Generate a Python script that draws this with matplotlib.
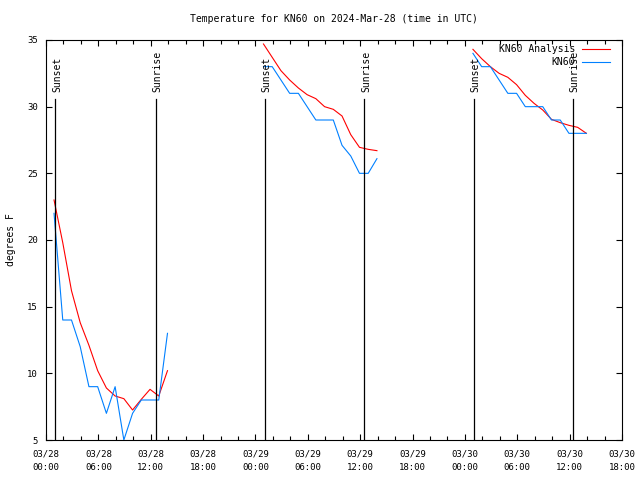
import matplotlib
matplotlib.use("Agg")
import matplotlib.pyplot as plt
from matplotlib.ticker import MultipleLocator, FixedLocator

# ── Data: hours since 03/28 00:00 UTC ─────────────────────────
hours_1 = [0.92, 1.92, 2.92, 3.92, 4.92, 5.92, 6.92, 7.92, 8.92, 9.92, 10.92, 11.92, 12.92, 13.92]
hours_2 = [24.92, 25.92, 26.92, 27.92, 28.92, 29.92, 30.92, 31.92, 32.92, 33.92, 34.92, 35.92, 36.92, 37.92]
hours_3 = [48.92, 49.92, 50.92, 51.92, 52.92, 53.92, 54.92, 55.92, 56.92, 57.92, 58.92, 59.92, 60.92, 61.92]

analysis_1 = [23.0, 19.8, 16.2, 13.8, 12.1, 10.2, 8.9, 8.3, 8.1, 7.25, 8.05, 8.8, 8.3, 10.2]
analysis_2 = [34.7, 33.7, 32.7, 32.0, 31.4, 30.9, 30.6, 30.0, 29.8, 29.3, 27.9, 26.95, 26.8, 26.7]
analysis_3 = [34.3, 33.6, 33.0, 32.5, 32.2, 31.65, 30.85, 30.25, 29.75, 29.05, 28.8, 28.6, 28.45, 28.0]

obs_1 = [22, 14, 14, 12, 9, 9, 7, 9, 5, 7, 8, 8, 8, 13]
obs_2 = [33, 33, 32, 31, 31, 30, 29, 29, 29, 27.1, 26.3, 25, 25, 26.1]
obs_3 = [34, 33, 33, 32, 31, 31, 30, 30, 30, 29, 29, 28, 28, 28]

sunset_hours = [1.07, 25.1, 49.02]
sunrise_hours = [12.6, 36.47, 60.35]

tick_hours = [0, 6, 12, 18, 24, 30, 36, 42, 48, 54, 60, 66]
tick_labels = ["03/28\n00:00", "03/28\n06:00", "03/28\n12:00", "03/28\n18:00",
               "03/29\n00:00", "03/29\n06:00", "03/29\n12:00", "03/29\n18:00",
               "03/30\n00:00", "03/30\n06:00", "03/30\n12:00", "03/30\n18:00"]

station = "KN60"

plt.rcParams["font.family"] = ["DejaVu Sans Mono"]
plt.rcParams["font.size"] = 7

fig = plt.figure(figsize=(6.4, 4.8), dpi=100)
ax = fig.add_axes([46 / 640, 40 / 480, 576 / 640, 400 / 480])

red = "#ff0000"
blue = "#0080ff"

# ── Series ────────────────────────────────────────────────────
for i, (h, a, o) in enumerate([(hours_1, analysis_1, obs_1),
                                (hours_2, analysis_2, obs_2),
                                (hours_3, analysis_3, obs_3)]):
    ax.plot(h, a, color=red, linewidth=0.8,
            label=f"{station} Analysis" if i == 0 else None, zorder=2)
    ax.plot(h, o, color=blue, linewidth=0.8,
            label=station if i == 0 else None, zorder=2)

# ── Sunset / sunrise markers ──────────────────────────────────
trans = ax.get_xaxis_transform()
for name, times in [("Sunset", sunset_hours), ("Sunrise", sunrise_hours)]:
    for t in times:
        ax.plot([t, t], [0, 0.853], color="black", linewidth=0.9,
                transform=trans, zorder=3)
        ax.text(t + 0.2, 0.87, name, rotation=90, ha="center", va="bottom",
                transform=trans, fontsize=7)

ax.set_xlim(0, 66)
ax.set_ylim(5, 35)
ax.xaxis.set_major_locator(FixedLocator(tick_hours))
ax.set_xticklabels(tick_labels)
ax.xaxis.set_minor_locator(MultipleLocator(2))
ax.yaxis.set_major_locator(MultipleLocator(5))

ax.tick_params(which="both", direction="in", top=True, right=True, width=0.8)
ax.tick_params(which="major", length=4.5)
ax.tick_params(which="minor", length=3)
ax.tick_params(axis="x", which="major", pad=7, labelsize=6.5)
ax.tick_params(axis="y", which="major", pad=6, labelsize=6.5)
for lab in ax.get_xticklabels():
    lab.set_linespacing(1.65)
for s in ax.spines.values():
    s.set_linewidth(0.8)

fig.text(334 / 640, 1 - 19 / 480, f"Temperature for {station} on 2024-Mar-28 (time in UTC)",
         ha="center", va="center", fontsize=7)
fig.text(11 / 640, 0.5, "degrees F", rotation=90, ha="center", va="center", fontsize=7)

ax.legend(loc="upper right", bbox_to_anchor=(0.979, 0.99), frameon=False,
          markerfirst=False, handlelength=2.9, handletextpad=0.7,
          borderaxespad=0, borderpad=0, labelspacing=0.35, fontsize=7)

fig.savefig("out.png", dpi=100)
